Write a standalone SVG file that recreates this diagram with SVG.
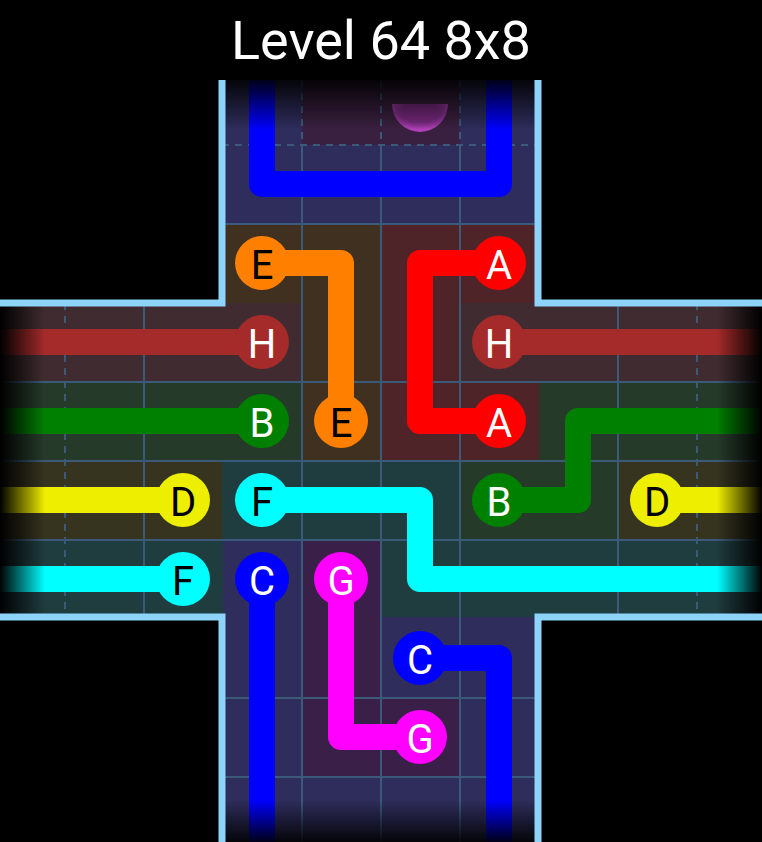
<svg xmlns="http://www.w3.org/2000/svg" width="762" height="842" viewBox="0 0 762 842">
<defs>
<style>
.p{fill:none;stroke-width:26;stroke-linecap:round;stroke-linejoin:round}
.g{stroke:#3b5a7a;stroke-width:2}
.d{stroke:#3b5a7a;stroke-width:2;stroke-dasharray:7 6}
.w{fill:none;stroke:#8ed3fa;stroke-width:7}
.t{font-family:Roboto,"Liberation Sans",sans-serif;font-size:40px;text-anchor:middle;dominant-baseline:central}
.wt{fill:#fff}.bk{fill:#000}
</style>
<clipPath id="cp"><rect x="0" y="80" width="762" height="762"/></clipPath>
<linearGradient id="fl" x1="0" x2="1"><stop offset="0" stop-color="#000" stop-opacity="1"/><stop offset="1" stop-color="#000" stop-opacity="0"/></linearGradient>
<linearGradient id="fr" x1="1" x2="0"><stop offset="0" stop-color="#000" stop-opacity="1"/><stop offset="1" stop-color="#000" stop-opacity="0"/></linearGradient>
<linearGradient id="ft" x1="0" y1="0" x2="0" y2="1"><stop offset="0" stop-color="#000" stop-opacity="0.9"/><stop offset="1" stop-color="#000" stop-opacity="0"/></linearGradient>
<linearGradient id="fb" x1="0" y1="1" x2="0" y2="0"><stop offset="0" stop-color="#000" stop-opacity="0.9"/><stop offset="1" stop-color="#000" stop-opacity="0"/></linearGradient>
<radialGradient id="pk" cx="0.5" cy="0.3" r="0.6"><stop offset="0.6" stop-color="#7a2a80"/><stop offset="1" stop-color="#b040b8"/></radialGradient>
</defs>
<rect width="762" height="842" fill="#000"/>
<text x="381" y="40" class="t wt" style="font-size:54px">Level 64 8x8</text>
<g id="cells">
<rect x="222" y="80" width="316" height="762" fill="#2e2d5c"/>
<rect x="0" y="303" width="762" height="314" fill="#2e2d5c"/>
<rect x="302" y="80" width="158" height="65" fill="#3a2040"/>
<rect x="222" y="224" width="158" height="79" fill="#3f3020"/>
<rect x="380" y="224" width="158" height="79" fill="#4f2428"/>
<rect x="0" y="303" width="302" height="79" fill="#402c30"/>
<rect x="302" y="303" width="79" height="158" fill="#3f3020"/>
<rect x="381" y="303" width="79" height="158" fill="#4f2428"/>
<rect x="460" y="303" width="302" height="79" fill="#402c30"/>
<rect x="460" y="382" width="79" height="79" fill="#4f2428"/>
<rect x="0" y="382" width="302" height="79" fill="#263a2a"/>
<rect x="539" y="382" width="223" height="79" fill="#263a2a"/>
<rect x="0" y="461" width="223" height="79" fill="#36341f"/>
<rect x="222" y="461" width="238" height="79" fill="#1f3c3e"/>
<rect x="460" y="461" width="158" height="79" fill="#263a2a"/>
<rect x="618" y="461" width="144" height="79" fill="#36341f"/>
<rect x="0" y="540" width="223" height="77" fill="#1f3c3e"/>
<rect x="381" y="540" width="381" height="77" fill="#1f3c3e"/>
<rect x="302" y="540" width="79" height="158" fill="#3a2048"/>
<rect x="302" y="698" width="158" height="79" fill="#3a2048"/>
</g>
<g id="grid">
<path class="g" d="M302 145V842M381 145V842M460 145V842M144 303V617M618 303V617M222 224H538M0 382H762M0 461H762M0 540H762M222 698H538M222 777H538"/>
<path class="d" d="M302 80V145M381 80V145M460 80V145M222 145H538M65 303V617M697 303V617"/>
</g>
<path d="M392 104a28 28 0 0 0 56 0z" fill="url(#pk)"/>
<g id="connectors">
<path class="p" stroke="#0000ff" clip-path="url(#cp)" d="M262 50V184H499V50"/>
<path class="p" stroke="#ff8000" d="M262 263H341V421"/>
<path class="p" stroke="#ff0000" d="M499 263H420V421H499"/>
<path class="p" stroke="#a52a2a" d="M-20 342H262M499 342H782"/>
<path class="p" stroke="#008000" d="M-20 421H262M499 500H578V421H782"/>
<path class="p" stroke="#eeee00" d="M-20 500H183M657 500H782"/>
<path class="p" stroke="#00ffff" d="M262 500H420V579H782M-20 579H183"/>
<path class="p" stroke="#0000ff" d="M262 579V862M420 658H499V862"/>
<path class="p" stroke="#ff00ff" d="M341 579V737H420"/>
</g>
<rect x="0" y="290" width="45" height="340" fill="url(#fl)"/>
<rect x="717" y="290" width="45" height="340" fill="url(#fr)"/>
<rect x="215" y="80" width="330" height="50" fill="url(#ft)"/>
<rect x="215" y="800" width="330" height="42" fill="url(#fb)"/>
<g id="walls">
<path class="w" d="M222 80V303H0M538 80V303H762M0 617H222V842M762 617H538V842"/>
</g>
<g id="nodes">
<g id="E1"><circle cx="262" cy="263" r="27" fill="#ff8000"/><text x="262" y="265" class="t bk">E</text></g>
<g id="E2"><circle cx="341" cy="421" r="27" fill="#ff8000"/><text x="341" y="423" class="t bk">E</text></g>
<g id="A1"><circle cx="499" cy="263" r="27" fill="#ff0000"/><text x="499" y="265" class="t wt">A</text></g>
<g id="A2"><circle cx="499" cy="421" r="27" fill="#ff0000"/><text x="499" y="423" class="t wt">A</text></g>
<g id="H1"><circle cx="262" cy="342" r="27" fill="#a52a2a"/><text x="262" y="344" class="t wt">H</text></g>
<g id="H2"><circle cx="499" cy="342" r="27" fill="#a52a2a"/><text x="499" y="344" class="t wt">H</text></g>
<g id="B1"><circle cx="262" cy="421" r="27" fill="#008000"/><text x="262" y="423" class="t wt">B</text></g>
<g id="B2"><circle cx="499" cy="500" r="27" fill="#008000"/><text x="499" y="502" class="t wt">B</text></g>
<g id="D1"><circle cx="183" cy="500" r="27" fill="#eeee00"/><text x="183" y="502" class="t bk">D</text></g>
<g id="D2"><circle cx="657" cy="500" r="27" fill="#eeee00"/><text x="657" y="502" class="t bk">D</text></g>
<g id="F1"><circle cx="262" cy="500" r="27" fill="#00ffff"/><text x="262" y="502" class="t bk">F</text></g>
<g id="F2"><circle cx="183" cy="579" r="27" fill="#00ffff"/><text x="183" y="581" class="t bk">F</text></g>
<g id="C1"><circle cx="262" cy="579" r="27" fill="#0000ff"/><text x="262" y="581" class="t wt">C</text></g>
<g id="C2"><circle cx="420" cy="658" r="27" fill="#0000ff"/><text x="420" y="660" class="t wt">C</text></g>
<g id="G1"><circle cx="341" cy="579" r="27" fill="#ff00ff"/><text x="341" y="581" class="t wt">G</text></g>
<g id="G2"><circle cx="420" cy="737" r="27" fill="#ff00ff"/><text x="420" y="739" class="t wt">G</text></g>
</g>
</svg>
